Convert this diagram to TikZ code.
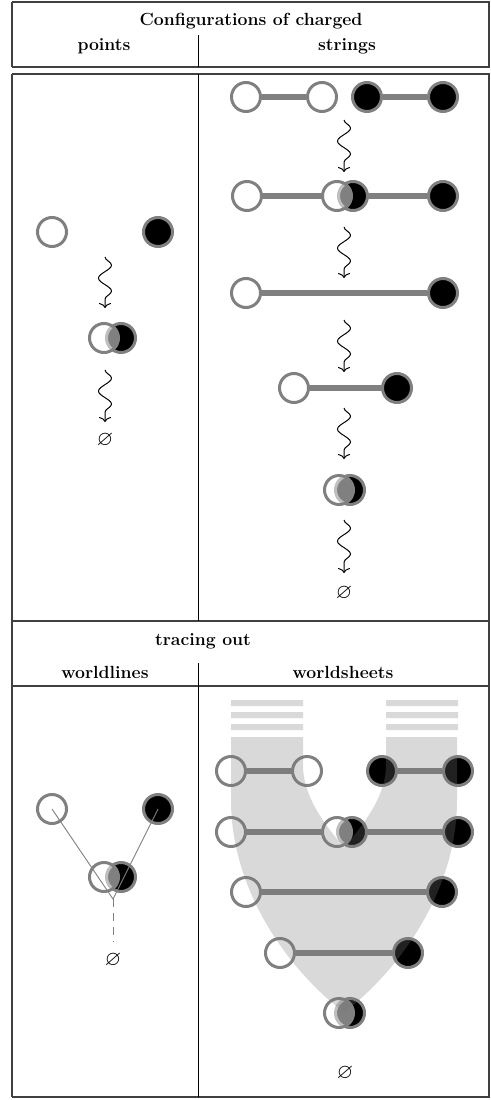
\documentclass[tikz,border=0pt]{standalone}
\usepackage{amssymb}
\usetikzlibrary{arrows.meta,decorations.pathmorphing}
\definecolor{cgray}{gray}{0.5}
\begin{document}
\begin{tikzpicture}[x=1pt,y=-1pt,
  wc/.style={circle,draw=cgray,line width=3pt,fill=white,minimum size=29pt,inner sep=0pt},
  bc/.style={wc,fill=black},
  tc/.style={wc,fill opacity=0.5},
  strl/.style={draw=cgray,line width=5.5pt},
  squig/.style={line width=1pt,decorate,decoration={snake,amplitude=6.5pt,segment length=26pt,post length=7pt},
    -{Computer Modern Rightarrow[length=5pt,width=12pt]}},
  hd/.style={font=\fontsize{17.6}{20}\selectfont\bfseries,anchor=base,inner sep=0pt},
  emp/.style={font=\fontsize{21}{24}\selectfont,inner sep=0pt},
  rulel/.style={draw=black!75,line width=1.2pt},
  midl/.style={draw=black,line width=0.9pt},
  sheet/.style={fill=black!53,fill opacity=0.28},
  wl/.style={draw=cgray,line width=0.9pt},
]
\useasboundingbox (0,0) rectangle (490,1100);
% ---------- table rules ----------
\draw[rulel] (12,2) -- (490,2);
\draw[rulel] (12,67) -- (490,67);
\draw[rulel] (12,74) -- (490,74);
\draw[rulel] (12,621) -- (490,621);
\draw[rulel] (12,686) -- (490,686);
\draw[rulel] (12,1097) -- (490,1097);
\draw[rulel] (12,2) -- (12,67);
\draw[rulel] (12,74) -- (12,1097);
\draw[rulel] (489,2) -- (489,67);
\draw[rulel] (489,74) -- (489,1097);
\draw[midl] (198,35) -- (198,67);
\draw[midl] (198,74) -- (198,621);
\draw[midl] (198,663) -- (198,1097);
% ---------- headers ----------
\node[hd] (h1) at (251,25) {Configurations of charged};
\node[hd] (h2) at (104,50) {points};
\node[hd] (h3) at (347,50) {strings};
\node[hd] (h4) at (203,645) {tracing out};
\node[hd] (h5) at (105,678) {worldlines};
\node[hd] (h6) at (343,678) {worldsheets};
% ---------- points ----------
\node[wc] (p1w) at (52,232) {};
\node[bc] (p1b) at (158,232) {};
\node[bc] (p2b) at (121,338) {};
\node[tc] (p2w) at (104,338) {};
\node[emp] (p0) at (105,440) {$\varnothing$};
\coordinate (pa1) at (105,257); \coordinate (pa2) at (105,308);
\coordinate (pa3) at (105,370); \coordinate (pa4) at (105,422);
\draw[squig] (pa1) -- (pa2);
\draw[squig] (pa3) -- (pa4);
% ---------- strings ----------
\node[wc] (s1a) at (246,97) {};
\node[wc] (s1b) at (322,97) {};
\node[bc] (s1c) at (367,97) {};
\node[bc] (s1d) at (443,97) {};
\draw[strl] (s1a) -- (s1b);
\draw[strl] (s1c) -- (s1d);
\node[wc] (s2a) at (247,196) {};
\node[bc] (s2b) at (353,196) {};
\node[tc] (s2w) at (337,196) {};
\node[bc] (s2d) at (443,196) {};
\draw[strl] (s2a) -- (s2w);
\draw[strl] (s2b) -- (s2d);
\node[wc] (s3a) at (246,293) {};
\node[bc] (s3b) at (443,293) {};
\draw[strl] (s3a) -- (s3b);
\node[wc] (s4a) at (294,388) {};
\node[bc] (s4b) at (397,388) {};
\draw[strl] (s4a) -- (s4b);
\node[bc] (s5b) at (350,490) {};
\node[tc] (s5w) at (339,490) {};
\node[emp] (s0) at (344,593) {$\varnothing$};
\coordinate (sa1) at (344,120); \coordinate (sb1) at (344,172);
\coordinate (sa2) at (344,227); \coordinate (sb2) at (344,278);
\coordinate (sa3) at (344,320); \coordinate (sb3) at (344,372);
\coordinate (sa4) at (344,408); \coordinate (sb4) at (344,459);
\coordinate (sa5) at (344,520); \coordinate (sb5) at (344,573);
\foreach \i in {1,...,5} {\draw[squig] (sa\i) -- (sb\i);}
% ---------- worldlines ----------
\node[wc] (w1w) at (52,809) {};
\node[bc] (w1b) at (158,809) {};
\node[bc] (w2b) at (121,877) {};
\node[tc] (w2w) at (104,877) {};
\coordinate (wj) at (113,899);
\coordinate (wd) at (113,942);
\draw[wl] (w1w.center) -- (wj) -- (w1b.center);
\draw[wl,dash pattern=on 8pt off 6pt] (wj) -- (wd);
\node[emp] (w0) at (113,960) {$\varnothing$};
% ---------- worldsheets ----------
\node[wc] (t1a) at (231,771) {};
\node[wc] (t1b) at (307,771) {};
\node[bc] (t1c) at (382,771) {};
\node[bc] (t1d) at (458,771) {};
\draw[strl] (t1a) -- (t1b);
\draw[strl] (t1c) -- (t1d);
\node[wc] (t2a) at (231,832) {};
\node[bc] (t2b) at (352,832) {};
\node[tc] (t2w) at (337,832) {};
\node[bc] (t2d) at (458,832) {};
\draw[strl] (t2a) -- (t2w);
\draw[strl] (t2b) -- (t2d);
\node[wc] (t3a) at (246,892) {};
\node[bc] (t3b) at (442,892) {};
\draw[strl] (t3a) -- (t3b);
\node[wc] (t4a) at (280,953) {};
\node[bc] (t4b) at (408,953) {};
\draw[strl] (t4a) -- (t4b);
\node[bc] (t5b) at (350,1013) {};
\node[tc] (t5w) at (339,1013) {};
\node[emp] (t0) at (345,1073) {$\varnothing$};
\fill[sheet] (231,737) -- (231,800) .. controls (231,900) and (300,980) .. (344,1012)
  .. controls (388,980) and (457,900) .. (457,800) -- (457,737) -- (386,737) -- (386,765)
  .. controls (386,800) and (358,830) .. (344,848) .. controls (330,830) and (303,800) .. (303,765)
  -- (303,737) -- cycle;
\fill[sheet] (231,700) rectangle (303,706) (231,712) rectangle (303,718) (231,724) rectangle (303,730);
\fill[sheet] (386,700) rectangle (458,706) (386,712) rectangle (458,718) (386,724) rectangle (458,730);
\end{tikzpicture}
\end{document}
